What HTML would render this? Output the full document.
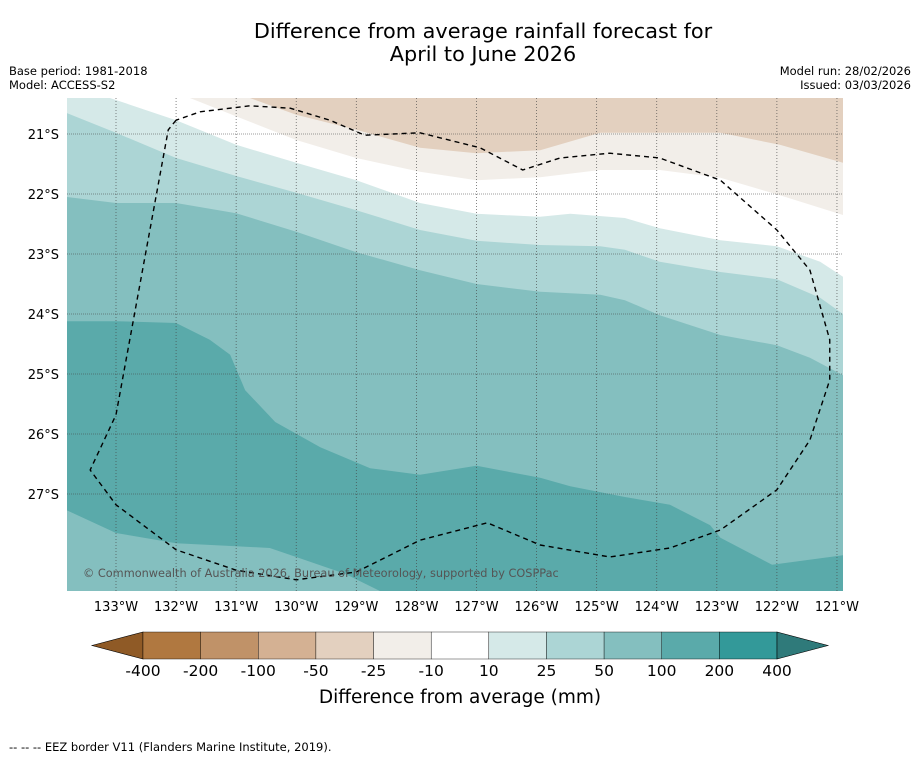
<!DOCTYPE html>
<html><head><meta charset="utf-8"><style>
body{margin:0;background:#fff;font-family:"Liberation Sans","DejaVu Sans",sans-serif}
svg text{font-family:"DejaVu Sans","Liberation Sans",sans-serif}
</style></head><body>
<svg id="c" width="919" height="758" xmlns="http://www.w3.org/2000/svg">
<rect width="919" height="758" fill="#fff"/>
<text x="483" y="38" font-size="20.8" text-anchor="middle">Difference from average rainfall forecast for</text>
<text x="483" y="61" font-size="20.8" text-anchor="middle">April to June 2026</text>
<text x="9" y="75" font-size="11.5">Base period: 1981-2018</text>
<text x="9" y="89" font-size="11.5">Model: ACCESS-S2</text>
<text x="911" y="75" font-size="11.5" text-anchor="end">Model run: 28/02/2026</text>
<text x="911" y="89" font-size="11.5" text-anchor="end">Issued: 03/03/2026</text>
<defs><clipPath id="mapclip"><rect x="67" y="98" width="776" height="493"/></clipPath></defs>
<g id="map" clip-path="url(#mapclip)"></g>
<g id="grid"></g>
<g id="eez"></g>
<text x="83" y="577" font-size="11.3" fill="#555">© Commonwealth of Australia 2026, Bureau of Meteorology, supported by COSPPac</text>
<g id="xticks"></g>
<g id="yticks"></g>
<g id="cbar"></g>
<text x="460" y="703" font-size="18.5" text-anchor="middle">Difference from average (mm)</text>
<text x="9" y="751" font-size="11.5">--  --  -- EEZ border V11 (Flanders Marine Institute, 2019).</text>
</svg>
<script>
const lonTicks=[133,132,131,130,129,128,127,126,125,124,123,122,121];
const latTicks=[21,22,23,24,25,26,27];
const cbLevels=["-400","-200","-100","-50","-25","-10","10","25","50","100","200","400"];
const cbColors=["#b07840","#c09268","#d4b193","#e3d0bf","#f2eee9","#ffffff","#d5e9e8","#acd5d5","#84bfbf","#5aaaaa","#339999"];
// contour boundaries (lon W, lat S)
const c100Lon=[133.82,133,132,131.44,131.1,130.85,130.35,129.6,128.77,127.94,127,125.94,125.44,124.53,123.78,123.11,122.94,122.08,120.9];
const c100Lat=[24.12,24.12,24.15,24.43,24.68,25.27,25.8,26.22,26.57,26.68,26.53,26.73,26.87,27.05,27.18,27.52,27.73,28.18,28.02];
const c50Lon=[133.82,133,132,131,130,129,127.94,127,125.94,124.94,124.53,123.95,122.94,122,121.45,120.9];
const c50Lat=[22.05,22.15,22.15,22.32,22.63,22.97,23.27,23.5,23.63,23.68,23.77,24.02,24.35,24.52,24.73,25.02];
const c25Lon=[133.82,133,132,131,130,129,127.94,127,125.94,124.94,124.53,123.95,122.94,122,121.28,120.9];
const c25Lat=[20.65,20.98,21.4,21.7,21.98,22.27,22.6,22.78,22.85,22.87,22.93,23.13,23.3,23.42,23.73,24];
const c10Lon=[133.1,132,131,130,129,127.94,127,125.94,125.44,124.53,123.95,122.94,122,121.28,120.9];
const c10Lat=[20.4,20.77,21.18,21.48,21.77,22.15,22.33,22.38,22.33,22.4,22.57,22.77,22.87,23.13,23.38];
const cm10Lon=[131.77,130.94,130,129,127.94,127,125.94,124.94,123.95,122.94,121.95,120.9];
const cm10Lat=[20.4,20.73,21.1,21.4,21.63,21.77,21.72,21.6,21.6,21.73,22.02,22.35];
const cm25Lon=[130.77,130,129,127.94,127,125.94,124.94,123.95,122.94,121.95,120.9];
const cm25Lat=[20.4,20.68,20.93,21.23,21.32,21.27,20.98,20.98,20.98,21.18,21.48];
const lowLon=[133.82,133,132,131,130.44,129.94,129.19,128.6];
const lowLat=[27.27,27.65,27.82,27.87,27.9,28.07,28.33,28.62];
const eezLon=[132,132.13,133,133.43,133,132,131,130,129,127.94,126.82,125.94,124.78,123.78,122.94,122,121.45,121.12,121.12,121.45,122,122.94,123.95,124.78,125.61,126.23,126.94,127.94,128.86,129.44,130.1,130.77,131.6,132];
const eezLat=[20.77,20.93,25.68,26.6,27.18,27.93,28.27,28.43,28.3,27.77,27.48,27.85,28.05,27.9,27.6,26.93,26.1,25.1,24.43,23.27,22.6,21.77,21.4,21.32,21.4,21.6,21.23,20.98,21.02,20.77,20.57,20.53,20.63,20.77];

const X=lon=>116+(133-lon)*60.08;
const Y=lat=>134+(lat-21)*60;
const NS='http://www.w3.org/2000/svg';
function mk(tag,attrs,parent){const e=document.createElementNS(NS,tag);for(const k in attrs)e.setAttribute(k,attrs[k]);parent.appendChild(e);return e;}
const map=document.getElementById('map');
const bg=mk('rect',{x:67,y:98,width:776,height:493,fill:'#5aaaaa'},map);


function above(lons,lats,color,name){
  let pts=lons.map((l,i)=>X(l)+','+Y(lats[i]));
  pts.push('850,'+Y(lats[lats.length-1]),'850,90','60,90','60,'+Y(lats[0]));
  const p=mk('polygon',{points:pts.join(' '),fill:color},map);
  
  
}
above(c100Lon,c100Lat,'#84bfbf','band-50-100');
above(c50Lon,c50Lat,'#acd5d5','band-25-50');
above(c25Lon,c25Lat,'#d5e9e8','band-10-25');
above(c10Lon,c10Lat,'#ffffff','band-neutral');
above(cm10Lon,cm10Lat,'#f2eee9','band-minus10-25');
above(cm25Lon,cm25Lat,'#e3d0bf','band-minus25-50');
{let pts=lowLon.map((l,i)=>X(l)+','+Y(lowLat[i]));pts.push('60,600','60,'+Y(lowLat[0]));
const p=mk('polygon',{points:pts.join(' '),fill:'#84bfbf'},map);

}

const grid=document.getElementById('grid'),xt=document.getElementById('xticks'),yt=document.getElementById('yticks');
lonTicks.forEach(l=>{
  const ln=mk('line',{x1:X(l),x2:X(l),y1:98,y2:591,stroke:'#444','stroke-width':0.8,'stroke-dasharray':'1,2','stroke-opacity':0.8},grid);
  
  
  const t=mk('text',{x:X(l),y:611,'font-size':13,'text-anchor':'middle'},xt);
  t.textContent=l+'°W';
  
  
});
latTicks.forEach(l=>{
  const ln=mk('line',{x1:67,x2:843,y1:Y(l),y2:Y(l),stroke:'#444','stroke-width':0.8,'stroke-dasharray':'1,1','stroke-opacity':0.7},grid);
  
  
  const t=mk('text',{x:59,y:Y(l)+5,'font-size':13,'text-anchor':'end'},yt);
  t.textContent=l+'°S';
  
  
});
const ez=mk('polyline',{points:eezLon.map((l,i)=>X(l)+','+Y(eezLat[i])).join(' '),fill:'none',stroke:'#000','stroke-width':1.4,'stroke-dasharray':'5,4','stroke-linejoin':'round'},document.getElementById('eez'));



const cb=document.getElementById('cbar');
const cx0=143,cw=(777-143)/cbColors.length,cy=632,ch=27;
const lt=mk('polygon',{points:`${cx0},${cy} ${cx0},${cy+ch} 92,${cy+ch/2}`,fill:'#8f5a26',stroke:'#000','stroke-width':0.6},cb);


cbColors.forEach((c,i)=>{
  const r=mk('rect',{x:cx0+i*cw,y:cy,width:cw,height:ch,fill:c,stroke:'#000','stroke-width':0.4},cb);
  
  
});
const rt=mk('polygon',{points:`777,${cy} 777,${cy+ch} 828,${cy+ch/2}`,fill:'#2f7a7a',stroke:'#000','stroke-width':0.6},cb);


cbLevels.forEach((v,i)=>{
  const t=mk('text',{x:cx0+i*cw,y:676,'font-size':15.5,'text-anchor':'middle'},cb);
  t.textContent=v;
  
  
});
</script>
</body></html>
